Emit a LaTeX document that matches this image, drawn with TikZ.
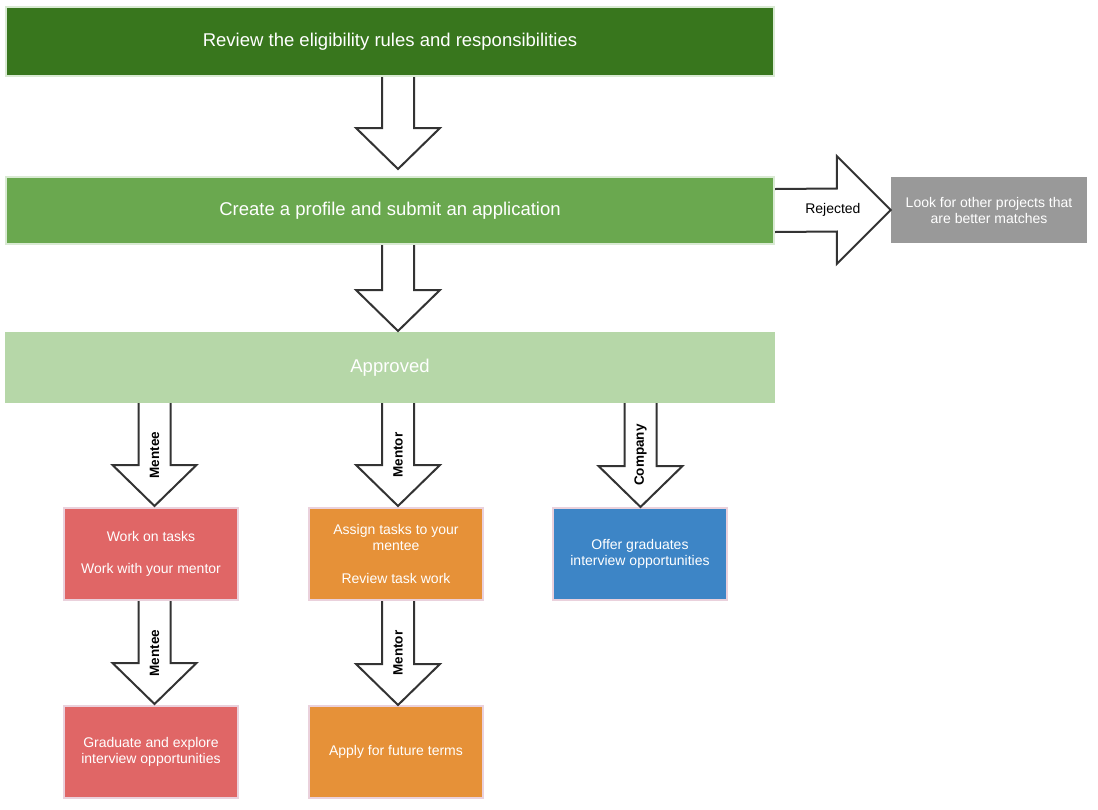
\documentclass[tikz,border=0pt]{standalone}
\usepackage{fontspec}
\setmainfont{Liberation Sans}
\usetikzlibrary{calc}
\definecolor{darkgreen}{HTML}{38761D}
\definecolor{midgreen}{HTML}{6AA84F}
\definecolor{lightgreen}{HTML}{B6D7A8}
\definecolor{greenline}{HTML}{D9EAD3}
\definecolor{grayfill}{HTML}{999999}
\definecolor{redfill}{HTML}{E06666}
\definecolor{orangefill}{HTML}{E69138}
\definecolor{bluefill}{HTML}{3D85C6}
\definecolor{pinkline}{HTML}{EAD1DC}
\definecolor{arrowline}{HTML}{333333}
% #1 from, #2 to, #3 x shift, #4 gap above target
\newcommand\fatdown[4]{%
  \path[fatarrow]
    ($(#1.south -| #2.north)+(#3-16,0)$) --
    ($(#2.north)+(#3-16,-41-#4)$) --
    ($(#2.north)+(#3-42,-41-#4)$) --
    ($(#2.north)+(#3,-#4)$) --
    ($(#2.north)+(#3+42,-41-#4)$) --
    ($(#2.north)+(#3+16,-41-#4)$) --
    ($(#1.south -| #2.north)+(#3+16,0)$);}
\begin{document}
\begin{tikzpicture}[x=1pt,y=-1pt,
  wide/.style={draw=greenline,line width=2pt,minimum width=768pt,inner sep=0pt,
    text=white,font=\fontsize{18.5}{22}\selectfont},
  smallbox/.style={draw=pinkline,line width=2pt,minimum width=174pt,minimum height=92pt,
    inner sep=0pt,text=white,align=center,font=\fontsize{14}{16}\selectfont},
  fatarrow/.style={draw=arrowline,fill=white,line width=2pt,line join=miter},
  rolelabel/.style={rotate=90,font=\bfseries\fontsize{13.5}{15}\selectfont,inner sep=0pt}]
\useasboundingbox (0,0) rectangle (1098,809);
% boxes
\node[wide,fill=darkgreen,minimum height=69pt] (review) at (390,41.5)
  {Review the eligibility rules and responsibilities};
\node[wide,fill=midgreen,minimum height=67pt] (create) at (390,210.5)
  {Create a profile and submit an application};
\node[wide,fill=lightgreen,draw=lightgreen,minimum height=69pt] (approved) at (390,367.5)
  {Approved};
\node[fill=grayfill,minimum width=196pt,minimum height=66pt,inner sep=0pt,text=white,
  align=center,font=\fontsize{14}{16}\selectfont] (look) at (989,210)
  {Look for other projects that\\are better matches};
\node[smallbox,fill=redfill] (work) at (151,554)
  {Work on tasks\\[16pt]Work with your mentor};
\node[smallbox,fill=redfill] (grad) at (151,752)
  {Graduate and explore\\interview opportunities};
\node[smallbox,fill=orangefill] (assign) at (396,554)
  {Assign tasks to your\\mentee\\[17pt]Review task work};
\node[smallbox,fill=orangefill] (apply) at (396,752)
  {Apply for future terms};
\node[smallbox,fill=bluefill] (offer) at (640,554)
  {Offer graduates\\interview opportunities};
% arrows
\fatdown{review}{create}{8}{7}
\fatdown{create}{approved}{8}{1}
\fatdown{approved}{work}{3.5}{1}
\fatdown{work}{grad}{3.5}{1}
\fatdown{approved}{assign}{2}{1}
\fatdown{assign}{apply}{2}{0}
\fatdown{approved}{offer}{0.5}{0}
\path[fatarrow]
  ($(create.east)+(0,-21.5)$) -- ($(look.west)+(-54,-21.5)$) --
  ($(look.west)+(-54,-54)$) -- (look.west) --
  ($(look.west)+(-54,54)$) -- ($(look.west)+(-54,21.5)$) --
  ($(create.east)+(0,21.5)$);
% labels
\node[font=\fontsize{14}{16}\selectfont,inner sep=0pt] (rej) at ($(create.east)!0.5!(look.west)$) {Rejected};
\node[rolelabel] (l1) at ($(approved.south -| work.north)!0.5!(work.north)+(3.5,0)$) {Mentee};
\node[rolelabel] (l2) at ($(work.south)!0.5!(grad.north)+(3.5,0)$) {Mentee};
\node[rolelabel] (l3) at ($(approved.south -| assign.north)!0.5!(assign.north)+(2,0)$) {Mentor};
\node[rolelabel] (l4) at ($(assign.south)!0.5!(apply.north)+(2,0)$) {Mentor};
\node[rolelabel] (l5) at ($(approved.south -| offer.north)!0.5!(offer.north)+(0.5,0)$) {Company};
\end{tikzpicture}
\end{document}
